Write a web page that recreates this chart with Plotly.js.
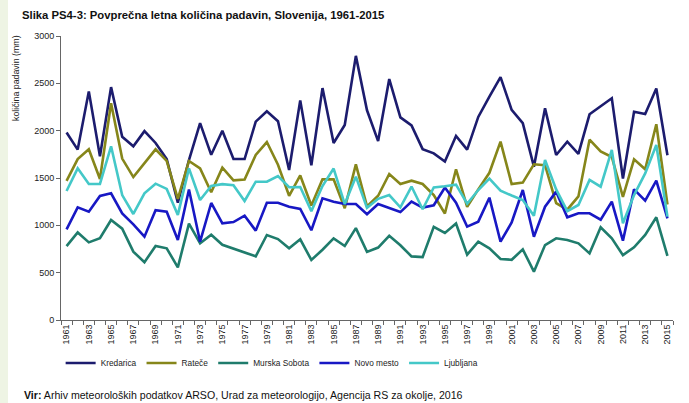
<!DOCTYPE html>
<html>
<head>
<meta charset="utf-8">
<script src="https://cdn.plot.ly/plotly-3.0.1.min.js"></script>
<style>
  html, body { margin: 0; padding: 0; background: #eef4e4; }
  #wrap { position: absolute; left: 8px; top: 0; width: 681px; height: 403px; background: #ffffff; }
  #chart { width: 681px; height: 403px; }
</style>
</head>
<body>
<div id="wrap"><div id="chart"></div></div>
<script>
const years = [];
for (let y = 1961; y <= 2015; y++) years.push(y);

const kredarica = [1980,1800,2415,1730,2460,1935,1835,1995,1870,1700,1240,1690,2080,1745,2000,1700,1700,2095,2205,2100,1585,2320,1635,2450,1870,2060,2790,2215,1890,2545,2140,2055,1805,1760,1675,1945,1800,2145,2360,2565,2220,2080,1620,2236,1743,1884,1754,2173,2258,2342,1495,2200,2175,2445,1740];
const ratece = [1470,1700,1803,1490,2290,1705,1510,1660,1803,1680,1280,1680,1602,1350,1609,1475,1483,1743,1880,1640,1312,1527,1210,1486,1486,1180,1644,1200,1312,1542,1437,1472,1437,1320,1125,1592,1195,1380,1555,1884,1437,1451,1645,1635,1235,1165,1305,1905,1780,1722,1300,1697,1592,2068,1220];
const murskaSobota = [780,925,820,863,1056,965,722,610,782,757,556,1018,810,900,795,755,715,672,898,855,757,852,634,742,862,782,970,720,765,890,790,672,665,985,920,1020,690,827,757,645,636,746,511,792,863,845,810,704,979,863,685,768,898,1085,677];
const novoMesto = [958,1190,1144,1310,1338,1125,1010,880,1160,1144,845,1378,827,1236,1021,1035,1102,944,1239,1239,1197,1173,948,1285,1250,1225,1225,1118,1225,1185,1140,1250,1188,1212,1400,1240,986,1039,1292,827,1030,1373,880,1197,1356,1085,1127,1127,1060,1250,838,1380,1261,1472,1074];
const ljubljana = [1363,1602,1437,1437,1835,1320,1120,1338,1440,1385,1110,1602,1268,1415,1435,1423,1257,1461,1461,1520,1403,1405,1150,1415,1600,1225,1514,1185,1280,1320,1190,1410,1170,1401,1412,1430,1228,1373,1494,1366,1315,1268,1100,1690,1380,1150,1215,1479,1408,1796,1021,1320,1549,1849,1092];

const seriesNames = ['Kredarica','Rateče','Murska Sobota','Novo mesto','Ljubljana'];
const seriesData = [kredarica, ratece, murskaSobota, novoMesto, ljubljana];
const seriesColors = ['#1c1c6e','#86861a','#1f7c6c','#1818c4','#44c8c8'];

const tickYears = years.filter(y => y % 2 === 1);
const tickLabels = tickYears.map(String);

const traces = seriesNames.map((n, i) => ({
  type: 'scatter', mode: 'lines', name: n,
  x: years, y: seriesData[i],
  line: { color: seriesColors[i], width: 2.6 },
  hoverinfo: 'skip'
}));

const font = 'Liberation Sans, Arial, sans-serif';

const layout = {
  width: 681, height: 403,
  margin: { l: 53, r: 16, t: 36, b: 83 },
  paper_bgcolor: '#ffffff', plot_bgcolor: '#ffffff',
  font: { family: font, size: 9, color: '#222' },
  showlegend: true,
  title: {
    text: '<b>Slika PS4-3: Povprečna letna količina padavin, Slovenija, 1961-2015</b>',
    font: { family: font, size: 11.3, color: '#111' },
    xref: 'container', yref: 'container',
    x: 14 / 681, xanchor: 'left', y: 1 - 15 / 403, yanchor: 'middle'
  },
  xaxis: {
    range: [1960.5, 2015.5],
    tickmode: 'array', tickvals: tickYears, ticktext: tickLabels,
    tickangle: -90, ticks: '', showgrid: false, zeroline: false,
    showline: true, linecolor: '#666', linewidth: 1,
    tickfont: { family: font, size: 9, color: '#222' },
    minor: { tick0: 1960.5, dtick: 1, ticks: 'outside', ticklen: 4, tickcolor: '#666', showgrid: false }
  },
  yaxis: {
    range: [0, 3000], tickmode: 'linear', tick0: 0, dtick: 500,
    ticks: 'outside', ticklen: 4, tickcolor: '#666',
    showgrid: false, zeroline: false,
    showline: true, linecolor: '#666', linewidth: 1,
    tickfont: { family: font, size: 9, color: '#222' }
  },
  legend: {
    orientation: 'h', x: 0.345, xanchor: 'center', y: -43 / 284, yanchor: 'middle',
    font: { family: font, size: 8.3, color: '#222' },
    itemwidth: 30, tracegroupgap: 0
  },
  annotations: [
    {
      text: 'količina padavin (mm)', textangle: -90,
      xref: 'paper', yref: 'paper', x: -52 / 612, y: 1 - 42 / 284,
      xanchor: 'left', yanchor: 'middle', showarrow: false,
      font: { family: font, size: 8.8, color: '#222' }
    },
    {
      text: '<b>Vir:</b> Arhiv meteoroloških podatkov ARSO, Urad za meteorologijo, Agencija RS za okolje, 2016',
      xref: 'paper', yref: 'paper', x: -39 / 612, y: -75 / 284,
      xanchor: 'left', yanchor: 'middle', showarrow: false,
      font: { family: font, size: 10.6, color: '#111' }
    }
  ]
};

Plotly.newPlot('chart', traces, layout, { displayModeBar: false, staticPlot: true });
</script>
</body>
</html>
